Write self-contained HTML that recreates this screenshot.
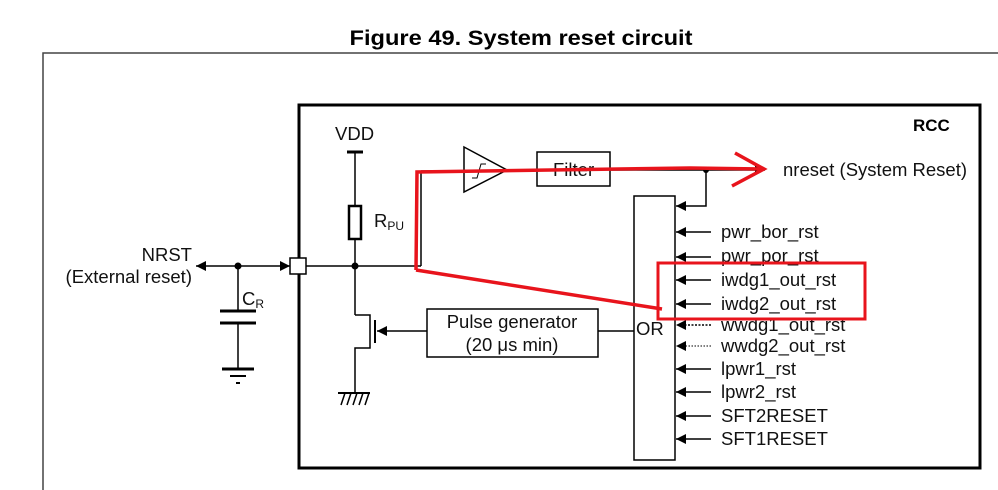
<!DOCTYPE html>
<html><head><meta charset="utf-8"><style>html,body{margin:0;padding:0;background:#fff}svg{display:block}</style></head>
<body>
<svg width="998" height="490" viewBox="0 0 998 490" xmlns="http://www.w3.org/2000/svg" font-family="Liberation Sans, Arial, sans-serif">
<defs>
<marker id="ah" viewBox="0 0 10 10" refX="10" refY="5" markerWidth="10" markerHeight="10" markerUnits="userSpaceOnUse" orient="auto"><path d="M0,0 L10,5 L0,10 z" fill="#000"/></marker>
<marker id="ahs" viewBox="0 0 10 10" refX="0" refY="5" markerWidth="10" markerHeight="10" markerUnits="userSpaceOnUse" orient="auto"><path d="M10,0 L0,5 L10,10 z" fill="#000"/></marker>
</defs>
<text x="521" y="45" text-anchor="middle" font-size="21" font-weight="bold" textLength="343" lengthAdjust="spacingAndGlyphs">Figure 49. System reset circuit</text>
<path d="M43,490 V53 H998" fill="none" stroke="#444" stroke-width="1.5"/>
<rect x="299" y="105" width="681" height="363" fill="none" stroke="#000" stroke-width="3"/>
<text x="913" y="131" font-size="17" font-weight="bold">RCC</text>
<g stroke="#000" stroke-width="1.5" fill="none">
<line x1="347" y1="152" x2="363" y2="152" stroke-width="3"/>
<line x1="355" y1="152" x2="355" y2="206"/>
<rect x="349" y="206" width="12" height="33" stroke-width="2.5"/>
<line x1="355" y1="239" x2="355" y2="315"/>
<line x1="306" y1="266" x2="421" y2="266"/>
<line x1="421" y1="266" x2="421" y2="171"/>
<line x1="421" y1="171" x2="464" y2="171"/>
<path d="M464,147 L507,170 L464,192 Z"/>
<path d="M472,178 h5 l4,-14 h5" stroke-width="1"/>
<line x1="507" y1="170" x2="537" y2="170"/>
<rect x="537" y="152" width="73" height="34"/>
<line x1="610" y1="170" x2="765" y2="170" marker-end="url(#ah)"/>
<path d="M706,170 V206 H676" marker-end="url(#ah)"/>
<rect x="634" y="196" width="41" height="264" fill="#fff"/>
<rect x="427" y="309" width="171" height="48"/>
<line x1="634" y1="331" x2="598" y2="331"/>
<line x1="427" y1="331" x2="377" y2="331" marker-end="url(#ah)"/>
<path d="M355,315 H370 V348 H355 V393"/>
<line x1="375" y1="320" x2="375" y2="343" stroke-width="2"/>
<line x1="338" y1="393" x2="370" y2="393" stroke-width="2"/>
<path d="M341,405 l4,-12 M347,405 l4,-12 M353,405 l4,-12 M359,405 l4,-12 M365,405 l4,-12" stroke-width="1.5"/>
<line x1="196" y1="266" x2="290" y2="266" marker-start="url(#ahs)" marker-end="url(#ah)"/>
<rect x="290" y="258" width="16" height="16" fill="#fff"/>
<line x1="238" y1="266" x2="238" y2="311"/>
<line x1="220" y1="311" x2="256" y2="311" stroke-width="3"/>
<line x1="220" y1="323" x2="256" y2="323" stroke-width="3"/>
<line x1="238" y1="323" x2="238" y2="369"/>
<line x1="222" y1="369" x2="254" y2="369" stroke-width="3"/>
<line x1="230" y1="376" x2="246" y2="376" stroke-width="2"/>
<line x1="236" y1="383" x2="240" y2="383" stroke-width="2"/>
<line x1="711" y1="232" x2="676" y2="232" marker-end="url(#ah)"/>
<line x1="711" y1="257" x2="676" y2="257" marker-end="url(#ah)"/>
<line x1="711" y1="280" x2="676" y2="280" marker-end="url(#ah)"/>
<line x1="711" y1="304" x2="676" y2="304" marker-end="url(#ah)"/>
<line x1="711" y1="325" x2="676" y2="325" stroke-dasharray="2,1.5" marker-end="url(#ah)"/>
<line x1="711" y1="346" x2="676" y2="346" stroke-dasharray="1.5,1.5" stroke-width="1" marker-end="url(#ah)"/>
<line x1="711" y1="369" x2="676" y2="369" marker-end="url(#ah)"/>
<line x1="711" y1="392" x2="676" y2="392" marker-end="url(#ah)"/>
<line x1="711" y1="416" x2="676" y2="416" marker-end="url(#ah)"/>
<line x1="711" y1="439" x2="676" y2="439" marker-end="url(#ah)"/>
</g>
<circle cx="355" cy="266" r="3.5"/>
<circle cx="238" cy="266" r="3.5"/>
<circle cx="706" cy="170" r="3"/>
<g font-size="18.5" fill="#111">
<text x="335" y="140">VDD</text>
<text x="374" y="227">R<tspan font-size="12" dy="3">PU</tspan></text>
<text x="553" y="176">Filter</text>
<text x="512" y="328" text-anchor="middle">Pulse generator</text>
<text x="512" y="351" text-anchor="middle">(20 μs min)</text>
<text x="636" y="335">OR</text>
<text x="783" y="176">nreset (System Reset)</text>
<text x="192" y="261" text-anchor="end">NRST</text>
<text x="192" y="283" text-anchor="end">(External reset)</text>
<text x="242" y="305">C<tspan font-size="12" dy="3">R</tspan></text>
<text x="721" y="238">pwr_bor_rst</text>
<text x="721" y="262">pwr_por_rst</text>
<text x="721" y="286">iwdg1_out_rst</text>
<text x="721" y="310">iwdg2_out_rst</text>
<text x="721" y="331">wwdg1_out_rst</text>
<text x="721" y="352">wwdg2_out_rst</text>
<text x="721" y="375">lpwr1_rst</text>
<text x="721" y="398">lpwr2_rst</text>
<text x="721" y="422">SFT2RESET</text>
<text x="721" y="445">SFT1RESET</text>
</g>
<g stroke="#e8141c" stroke-width="3.5" fill="none">
<path d="M416,270 L417,172 L690,168 L762,169"/>
<path d="M416,270 L662,309"/>
<path d="M735,153 L764,169 L732,186"/>
<rect x="658" y="263" width="207" height="56" stroke-width="3"/>
</g>
</svg>
</body></html>
